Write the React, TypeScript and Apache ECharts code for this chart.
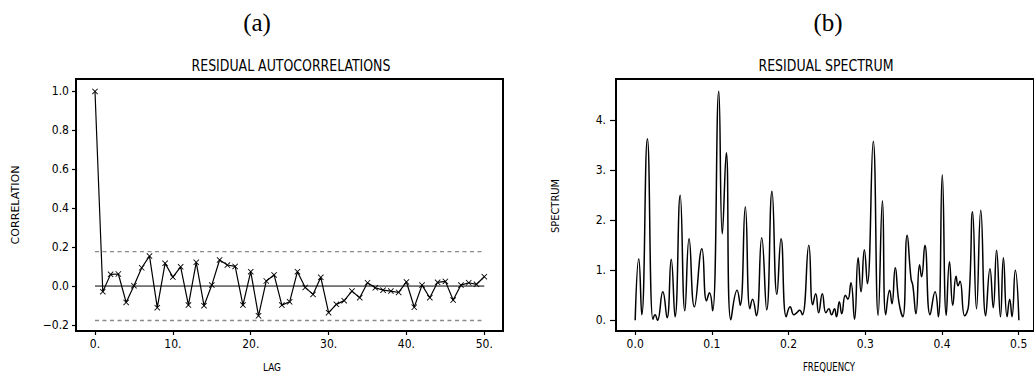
import React, { useEffect, useRef } from "react";
import * as echarts from "echarts";

// ---------- data ----------
const lags = [
  0, 1, 2, 3, 4, 5, 6, 7, 8, 9, 10, 11, 12, 13, 14, 15, 16, 17, 18, 19, 20,
  21, 22, 23, 24, 25, 26, 27, 28, 29, 30, 31, 32, 33, 34, 35, 36, 37, 38, 39,
  40, 41, 42, 43, 44, 45, 46, 47, 48, 49, 50,
];
const acf = [
  1.0, -0.029, 0.06, 0.062, -0.084, 0.002, 0.094, 0.154, -0.111, 0.117, 0.046,
  0.099, -0.098, 0.122, -0.101, 0.005, 0.134, 0.108, 0.101, -0.098, 0.074,
  -0.153, 0.026, 0.057, -0.098, -0.081, 0.074, -0.007, -0.043, 0.045, -0.137,
  -0.094, -0.075, -0.026, -0.06, 0.017, -0.009, -0.021, -0.026, -0.033, 0.021,
  -0.109, 0.005, -0.06, 0.019, 0.024, -0.072, 0.005, 0.017, 0.009, 0.048,
];
const confLimit = 0.177;
const lagSpan = [0, 50];

const specFreq = [
  0.0, 0.0047, 0.0086, 0.0159, 0.0232, 0.026, 0.029, 0.036, 0.0416, 0.047,
  0.052, 0.0587, 0.0648, 0.0703, 0.0772, 0.087, 0.093, 0.0969, 0.101, 0.109,
  0.1136, 0.1188, 0.1248, 0.1329, 0.137, 0.1436, 0.1496, 0.153, 0.158, 0.165,
  0.1715, 0.1784, 0.1848, 0.1902, 0.197, 0.202, 0.207, 0.2105, 0.2144, 0.218,
  0.2264, 0.2315, 0.2354, 0.2392, 0.244, 0.2487, 0.2525, 0.256, 0.2599, 0.2624,
  0.2662, 0.2693, 0.274, 0.2773, 0.2813, 0.286, 0.2907, 0.2945, 0.2988, 0.3027,
  0.3104, 0.3168, 0.3224, 0.3267, 0.3318, 0.3348, 0.3391, 0.3438, 0.349, 0.3546,
  0.3597, 0.362, 0.3661, 0.3708, 0.3734, 0.3777, 0.3845, 0.391, 0.3953, 0.4004,
  0.4056, 0.4098, 0.4141, 0.4184, 0.421, 0.4235, 0.4296, 0.4347, 0.4399, 0.445,
  0.4506, 0.457, 0.4626, 0.4669, 0.4712, 0.4763, 0.4801, 0.4849, 0.4883, 0.4913,
  0.4956, 0.5003,
];
const specValue = [
  0.0, 1.23, 0.11, 3.63, 0.02, 0.11, 0.0, 0.57, 0.05, 1.22,
  0.07, 2.5, 0.19, 1.63, 0.27, 1.43, 0.39, 0.55, 0.19, 4.58,
  1.73, 3.35, 0.01, 0.6, 0.3, 2.27, 0.23, 0.42, 0.09, 1.65,
  0.21, 2.58, 0.52, 1.63, 0.07, 0.27, 0.11, 0.15, 0.2, 0.11,
  1.5, 0.31, 0.53, 0.15, 0.53, 0.15, 0.23, 0.11, 0.23, 0.07,
  0.37, 0.13, 0.5, 0.42, 0.75, 0.02, 1.25, 0.57, 1.41, 0.73,
  3.58, 0.1, 2.39, 0.11, 0.6, 0.33, 1.05, 0.37, 0.07, 1.7,
  0.83, 0.7, 0.13, 1.11, 0.87, 1.5, 0.11, 0.57, 0.07, 2.91,
  0.1, 1.17, 0.3, 0.88, 0.69, 0.78, 0.09, 0.3, 2.17, 0.23,
  2.2, 0.09, 1.03, 0.25, 1.4, 0.07, 1.25, 0.07, 0.42, 0.07,
  1.0, 0.0,
];

const lagTicks = [0, 10, 20, 30, 40, 50];
const lagTickLabels = ["0.", "10.", "20.", "30.", "40.", "50."];
const corrTicks = [-0.2, 0, 0.2, 0.4, 0.6, 0.8, 1.0];
const corrTickLabels = ["\u22120.2", "0.0", "0.2", "0.4", "0.6", "0.8", "1.0"];
const freqTicks = [0, 0.1, 0.2, 0.3, 0.4, 0.5];
const freqTickLabels = ["0.0", "0.1", "0.2", "0.3", "0.4", "0.5"];
const specTicks = [0, 1, 2, 3, 4];
const specTickLabels = ["0.", "1.", "2.", "3.", "4."];

const FONT =
  "'Liberation Sans Narrow','DejaVu Sans Condensed','Arial Narrow',sans-serif";
const SERIF = "'Liberation Serif','DejaVu Serif',serif";

const lookup = (ticks: number[], labels: string[]) => (v: number) => {
  const i = ticks.findIndex((t) => Math.abs(t - v) < 1e-9);
  return i >= 0 ? labels[i] : "";
};

const X_SYMBOL =
  "path://M0,1L1,0L5,4L9,0L10,1L6,5L10,9L9,10L5,6L1,10L0,9L4,5Z";

export default function App() {
  const ref = useRef<HTMLDivElement>(null);
  useEffect(() => {
    if (!ref.current) return;
    const chart = echarts.init(ref.current, undefined, { renderer: "svg" });
    const tickStyle = { color: "#000", width: 1.2 };
    const labelBase = { color: "#000", fontFamily: FONT, fontSize: 12 };
    const txt = (text: string, x: number, y: number, size: number, extra: any = {}, family = FONT) => ({
      type: "text", x, y, ...extra,
      style: { text, fontFamily: family, fontSize: size, fill: "#000", align: "center", verticalAlign: "middle" },
    });
    const option: any = {
      animation: false,
      backgroundColor: "#fff",
      grid: [
        { left: 76, top: 79, width: 427, height: 252, show: true, borderColor: "#000", borderWidth: 2, backgroundColor: "transparent", containLabel: false },
        { left: 616, top: 79, width: 424, height: 252, show: true, borderColor: "#000", borderWidth: 2, backgroundColor: "transparent", containLabel: false },
      ],
      xAxis: [
        {
          type: "value", gridIndex: 0, min: -2.44, max: 52.4, position: "bottom",
          axisLine: { show: false, onZero: false }, splitLine: { show: false },
          axisTick: { show: true, length: 4, lineStyle: tickStyle, customValues: lagTicks },
          axisLabel: { ...labelBase, margin: 7, customValues: lagTicks, formatter: lookup(lagTicks, lagTickLabels) },
        },
        {
          type: "value", gridIndex: 1, min: -0.025, max: 0.52, position: "bottom",
          axisLine: { show: false, onZero: false }, splitLine: { show: false },
          axisTick: { show: true, length: 4, lineStyle: tickStyle, customValues: freqTicks },
          axisLabel: { ...labelBase, margin: 7, customValues: freqTicks, formatter: lookup(freqTicks, freqTickLabels) },
        },
      ],
      yAxis: [
        {
          type: "value", gridIndex: 0, min: -0.231, max: 1.064, position: "left",
          axisLine: { show: false, onZero: false }, splitLine: { show: false },
          axisTick: { show: true, length: 4, lineStyle: tickStyle, customValues: corrTicks },
          axisLabel: { ...labelBase, margin: 7, customValues: corrTicks, formatter: lookup(corrTicks, corrTickLabels) },
        },
        {
          type: "value", gridIndex: 1, min: -0.214, max: 4.826, position: "left",
          axisLine: { show: false, onZero: false }, splitLine: { show: false },
          axisTick: { show: true, length: 6, lineStyle: tickStyle, customValues: specTicks },
          axisLabel: { ...labelBase, margin: 10, customValues: specTicks, formatter: lookup(specTicks, specTickLabels) },
        },
      ],
      series: [
        {
          type: "line", xAxisIndex: 0, yAxisIndex: 0, z: 1,
          data: [[lagSpan[0], confLimit], [lagSpan[1], confLimit]],
          symbol: "none", lineStyle: { color: "#8a8a8a", width: 1.3, type: [4, 3.5] },
        },
        {
          type: "line", xAxisIndex: 0, yAxisIndex: 0, z: 1,
          data: [[lagSpan[0], -confLimit], [lagSpan[1], -confLimit]],
          symbol: "none", lineStyle: { color: "#8a8a8a", width: 1.3, type: [4, 3.5] },
        },
        {
          type: "line", xAxisIndex: 0, yAxisIndex: 0, z: 2,
          data: [[lagSpan[0], 0], [lagSpan[1], 0]],
          symbol: "none", lineStyle: { color: "#000", width: 1 },
        },
        {
          type: "line", xAxisIndex: 0, yAxisIndex: 0, z: 3,
          data: lags.map((l, i) => [l, acf[i]]),
          symbol: X_SYMBOL, symbolSize: 6, showAllSymbol: true,
          itemStyle: { color: "#000" },
          lineStyle: { color: "#000", width: 1.2 },
        },
        {
          type: "line", xAxisIndex: 1, yAxisIndex: 1, z: 3,
          data: specFreq.map((f, i) => [f, specValue[i]]),
          symbol: "none", smooth: 0.5,
          lineStyle: { color: "#000", width: 1.5 },
        },
      ],
      graphic: [
        txt("(a)", 257, 22, 25, {}, SERIF),
        txt("(b)", 828, 22, 25, {}, SERIF),
        txt("RESIDUAL AUTOCORRELATIONS", 291, 66, 16, { scaleX: 0.87 }),
        txt("RESIDUAL SPECTRUM", 826, 66, 16, { scaleX: 0.87 }),
        txt("CORRELATION", 15, 205, 11, { rotation: Math.PI / 2, scaleX: 1.12 }),
        txt("SPECTRUM", 555, 206, 11, { rotation: Math.PI / 2 }),
        txt("LAG", 272, 367, 11, { scaleX: 0.9 }),
        txt("FREQUENCY", 829, 367, 11.5, { scaleX: 0.83 }),
      ],
    };
    chart.setOption(option);
    return () => chart.dispose();
  }, []);
  return (
    <div
      ref={ref}
      style={{ position: "fixed", left: 0, top: 0, width: 1034, height: 376, background: "#fff" }}
    />
  );
}
